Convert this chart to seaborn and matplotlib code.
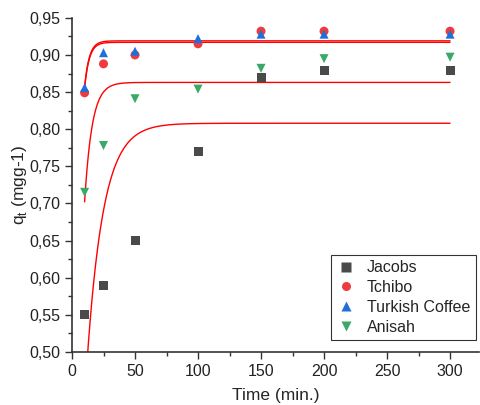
import numpy as np
import pandas as pd
import matplotlib
matplotlib.use("Agg")
import matplotlib.pyplot as plt
import seaborn as sns
from matplotlib.ticker import MultipleLocator, FuncFormatter

# ---- data ----
time = [10, 25, 50, 100, 150, 200, 300]
jacobs = [0.550, 0.590, 0.650, 0.770, 0.870, 0.879, 0.879]
tchibo = [0.849, 0.888, 0.900, 0.915, 0.932, 0.932, 0.932]
turkish = [0.856, 0.903, 0.905, 0.922, 0.928, 0.928, 0.928]
anisah = [0.715, 0.778, 0.841, 0.854, 0.882, 0.895, 0.897]
series_names = ["Jacobs", "Tchibo", "Turkish Coffee", "Anisah"]

# fitted pseudo-first-order parameters (qe, k)
fit_qe = [0.808, 0.917, 0.919, 0.863]
fit_k = [0.0772, 0.27, 0.27, 0.168]

colors = ["#4a4a4a", "#ee3b3f", "#1f6fdb", "#3aa866"]
markers = ["s", "o", "^", "v"]

sns.set_theme(style="ticks")
plt.rcParams["font.family"] = ["Liberation Sans", "DejaVu Sans"]

rows = []
for name, vals in zip(series_names, [jacobs, tchibo, turkish, anisah]):
    for t, v in zip(time, vals):
        rows.append({"Time": t, "q": v, "Sample": name})
df = pd.DataFrame(rows)

tt = np.linspace(10, 300, 600)
fit_rows = []
for name, qe, k in zip(series_names, fit_qe, fit_k):
    for t in tt:
        fit_rows.append({"Time": t, "q": qe * (1 - np.exp(-k * t)), "Sample": name})
fdf = pd.DataFrame(fit_rows)

fig = plt.figure(figsize=(4.8, 4.05), dpi=100)
ax = fig.add_axes([0.15, 0.131, 0.848, 0.825])

for name in series_names:
    sub = fdf[fdf["Sample"] == name]
    sns.lineplot(data=sub, x="Time", y="q", ax=ax, color="#ff0000", linewidth=1.0,
                 legend=False, zorder=2)

sns.scatterplot(data=df, x="Time", y="q", hue="Sample", style="Sample",
                hue_order=series_names, style_order=series_names,
                palette=colors, markers=markers, s=42, edgecolor="none",
                ax=ax, zorder=3)

ax.set_xlim(0, 323)
ax.set_ylim(0.50, 0.95)
ax.xaxis.set_major_locator(MultipleLocator(50))
ax.xaxis.set_minor_locator(MultipleLocator(25))
ax.yaxis.set_major_locator(MultipleLocator(0.05))
ax.yaxis.set_minor_locator(MultipleLocator(0.025))
ax.yaxis.set_major_formatter(FuncFormatter(lambda v, p: f"{v:.2f}".replace(".", ",")))
ax.tick_params(which="major", direction="out", length=5, width=1, labelsize=11.5,
               color="#333333", labelcolor="#222222")
ax.tick_params(which="minor", direction="out", length=3, width=1, color="#333333")
for s in ["top", "right"]:
    ax.spines[s].set_visible(False)
for s in ["left", "bottom"]:
    ax.spines[s].set_color("#333333")
    ax.spines[s].set_linewidth(1.2)

ax.set_xlabel("Time (min.)", fontsize=12.5, labelpad=7)
ax.set_ylabel(r"q$_\mathregular{t}$ (mgg-1)", fontsize=12.5, labelpad=0)

leg = ax.legend(loc="lower right", bbox_to_anchor=(0.992, 0.035), frameon=True, fancybox=False,
                edgecolor="black", fontsize=11.5, handletextpad=0.7, borderpad=0.35,
                labelspacing=0.3, markerscale=1.0, handlelength=1.2, borderaxespad=0.0)
leg.get_frame().set_linewidth(0.8)
leg.set_title(None)

fig.savefig("out.png", dpi=100)
